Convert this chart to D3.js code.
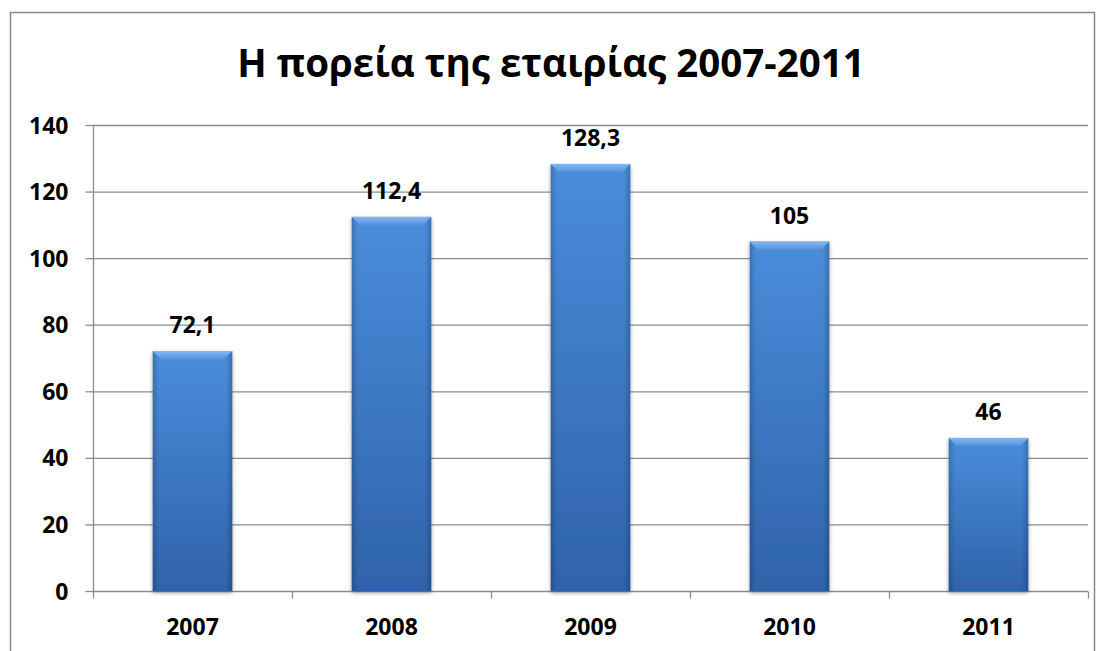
<!DOCTYPE html>
<html><head><meta charset="utf-8">
<script src="https://cdn.jsdelivr.net/npm/d3@7/dist/d3.min.js"></script>
<style>body{margin:0;background:#fff;} svg{display:block;}</style>
</head><body>
<svg id="c" width="1105" height="651"></svg>
<script>
const categories = ["2007","2008","2009","2010","2011"];
const values = [72.1, 112.4, 128.3, 105, 46];
const valueLabels = ["72,1","112,4","128,3","105","46"];
const yTicks = [0,20,40,60,80,100,120,140];
const title = "Η πορεία της εταιρίας 2007-2011";

const svg = d3.select("#c");
const font = "'Open Sans', 'Noto Sans', sans-serif";
const M = {left:93, right:1088, top:125, bottom:591};
const FS = 23;

svg.append("rect").attr("x",10.5).attr("y",12.5).attr("width",1084).attr("height",660)
  .attr("fill","#fff").attr("stroke","#888").attr("stroke-width",1.5);

const x = d3.scaleBand().domain(categories).range([M.left, M.right]).paddingInner(0.6).paddingOuter(0.3);
const y = d3.scaleLinear().domain([0,140]).range([M.bottom, M.top]);

const defs = svg.append("defs");
const gv = defs.append("linearGradient").attr("id","gv").attr("x1",0).attr("y1",0).attr("x2",0).attr("y2",1);
gv.append("stop").attr("offset","0%").attr("stop-color","#4a8ddb");
gv.append("stop").attr("offset","100%").attr("stop-color","#2f63aa");
const gh = defs.append("linearGradient").attr("id","gh").attr("x1",0).attr("y1",0).attr("x2",1).attr("y2",0);
gh.append("stop").attr("offset","0%").attr("stop-color","#000").attr("stop-opacity",0.18);
gh.append("stop").attr("offset","8%").attr("stop-color","#000").attr("stop-opacity",0.0);
gh.append("stop").attr("offset","92%").attr("stop-color","#000").attr("stop-opacity",0.0);
gh.append("stop").attr("offset","100%").attr("stop-color","#000").attr("stop-opacity",0.2);
const gt = defs.append("linearGradient").attr("id","gt").attr("x1",0).attr("y1",0).attr("x2",0).attr("y2",1);
gt.append("stop").attr("offset","0%").attr("stop-color","#8dbcf0");
gt.append("stop").attr("offset","100%").attr("stop-color","#5595e0");
const f = defs.append("filter").attr("id","sh").attr("x","-20%").attr("y","-20%").attr("width","140%").attr("height","140%");
f.append("feGaussianBlur").attr("in","SourceAlpha").attr("stdDeviation",2);
f.append("feOffset").attr("dx",0).attr("dy",2).attr("result","b");
f.append("feComponentTransfer").append("feFuncA").attr("type","linear").attr("slope",0.35);
const fm = f.append("feMerge"); fm.append("feMergeNode"); fm.append("feMergeNode").attr("in","SourceGraphic");

// gridlines
svg.append("g").selectAll("line").data(yTicks.filter(d=>d>0)).join("line")
  .attr("x1",M.left).attr("x2",M.right).attr("y1",d=>y(d)+0.5).attr("y2",d=>y(d)+0.5)
  .attr("stroke","#8c8c8c").attr("stroke-width",1.3);

// y axis
const ya = svg.append("g").attr("transform",`translate(${M.left+0.5},0)`)
  .call(d3.axisLeft(y).tickValues(yTicks).tickSize(8).tickPadding(17));
ya.select(".domain").attr("stroke","#8c8c8c").attr("stroke-width",1.3).attr("d",`M0,${M.top}V${M.bottom}`);
ya.selectAll(".tick line").attr("stroke","#8c8c8c").attr("stroke-width",1.3);
ya.selectAll(".tick text").attr("font-family",font).attr("font-weight","bold").attr("font-size",FS).attr("fill","#000").attr("dy","0.35em");

// x axis
const xa = svg.append("g").attr("transform",`translate(0,${M.bottom+0.5})`)
  .call(d3.axisBottom(x).tickSize(0).tickPadding(0));
xa.select(".domain").attr("stroke","#8c8c8c").attr("stroke-width",1.3).attr("d",`M${M.left},0H${M.right}`);
xa.selectAll(".tick text").attr("font-family",font).attr("font-weight","bold").attr("font-size",FS).attr("fill","#000")
  .attr("dy",null).attr("y",43);
xa.append("g").selectAll("line").data(d3.range(categories.length+1)).join("line")
  .attr("x1",i=>M.left+i*(M.right-M.left)/categories.length+0.5)
  .attr("x2",i=>M.left+i*(M.right-M.left)/categories.length+0.5)
  .attr("y1",0).attr("y2",7).attr("stroke","#8c8c8c").attr("stroke-width",1.3);

// bars
const bars = svg.append("g").selectAll("g").data(categories).join("g").attr("filter","url(#sh)");
bars.append("rect").attr("x",d=>x(d)).attr("width",x.bandwidth())
  .attr("y",(d,i)=>y(values[i])).attr("height",(d,i)=>y(0)-y(values[i])).attr("fill","url(#gv)");
bars.append("rect").attr("x",d=>x(d)).attr("width",x.bandwidth())
  .attr("y",(d,i)=>y(values[i])).attr("height",(d,i)=>y(0)-y(values[i])).attr("fill","url(#gh)");
// top bevel
bars.append("path").attr("d",(d,i)=>{
  const x0=x(d), x1=x(d)+x.bandwidth(), t=y(values[i]), b=8;
  return `M${x0},${t}L${x1},${t}L${x1-b},${t+b}L${x0+b},${t+b}Z`;
}).attr("fill","url(#gt)").attr("opacity",0.9);

// value labels
svg.append("g").selectAll("text").data(categories).join("text")
  .attr("x",d=>x(d)+x.bandwidth()/2).attr("y",(d,i)=>y(values[i])-18)
  .attr("text-anchor","middle").attr("font-family",font).attr("font-weight","bold").attr("font-size",FS)
  .text((d,i)=>valueLabels[i]);

// title
svg.append("text").attr("x",551).attr("y",77).attr("text-anchor","middle")
  .attr("font-family",font).attr("font-weight","bold").attr("font-size",38.5).text(title);
</script>
</body></html>
